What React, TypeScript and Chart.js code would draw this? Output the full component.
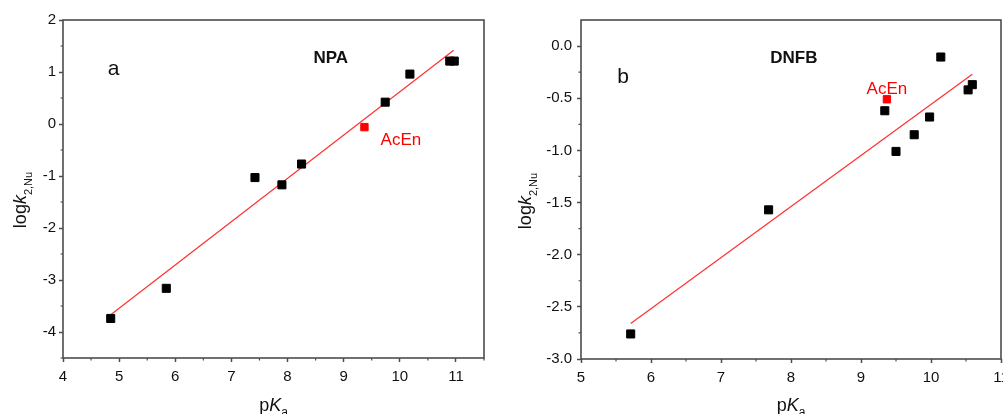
import React, { useEffect, useRef } from "react";
import { Chart, registerables } from "chart.js";

Chart.register(...registerables);

// ---------- Panel a (NPA) ----------
const pKaA = [4.85, 5.84, 7.42, 7.9, 8.25, 9.74, 10.18, 10.89, 10.97];
const logkA = [-3.74, -3.16, -1.03, -1.17, -0.77, 0.42, 0.96, 1.21, 1.21];
const acEnPKaA = [9.37];
const acEnLogkA = [-0.06];
const fitXA = [4.85, 10.96];
const fitYA = [-3.67, 1.42];
const xTicksA = [4, 5, 6, 7, 8, 9, 10, 11];
const yTicksA = [-4, -3, -2, -1, 0, 1, 2];
const xMinorA = [4.5, 5.5, 6.5, 7.5, 8.5, 9.5, 10.5, 11.5];
const yMinorA = [-4.5, -3.5, -2.5, -1.5, -0.5, 0.5, 1.5];

// ---------- Panel b (DNFB) ----------
const pKaB = [5.71, 7.68, 9.34, 9.5, 9.76, 9.98, 10.14, 10.53, 10.59];
const logkB = [-2.76, -1.57, -0.62, -1.01, -0.85, -0.68, -0.105, -0.42, -0.37];
const acEnPKaB = [9.37];
const acEnLogkB = [-0.51];
const fitXB = [5.71, 10.59];
const fitYB = [-2.66, -0.27];
const xTicksB = [5, 6, 7, 8, 9, 10, 11];
const yTicksB = [-3.0, -2.5, -2.0, -1.5, -1.0, -0.5, 0.0];
const xMinorB = [5.5, 6.5, 7.5, 8.5, 9.5, 10.5];
const yMinorB = [-2.75, -2.25, -1.75, -1.25, -0.75, -0.25];

const FONT = "'Liberation Sans', Arial, Helvetica, sans-serif";
const AXIS_COLOR = "#4d4d4d";
const TEXT_COLOR = "#111111";

type Seg = { t: string; style?: "normal" | "italic" | "sub" | "bold" };

type Note = {
  text: string;
  x: number;
  y: number;
  size: number;
  bold?: boolean;
  color: string;
};

type Panel = {
  id: string;
  canvasW: number;
  canvasH: number;
  left: number;
  yAxisW: number;
  xAxisH: number;
  padTop: number;
  padRight: number;
  xMin: number;
  xMax: number;
  yMin: number;
  yMax: number;
  xs: number[];
  ys: number[];
  redX: number[];
  redY: number[];
  fitX: number[];
  fitY: number[];
  xTicks: number[];
  yTicks: number[];
  xMinor: number[];
  yMinor: number[];
  yFmt: (v: number) => string;
  yPad: number;
  yTitleX: number;
  yTitleCY: number;
  notes: Note[];
};

function drawRich(
  ctx: CanvasRenderingContext2D,
  segs: Seg[],
  size: number,
  subSize: number,
  subDrop: number
) {
  const fontFor = (s: Seg) => {
    if (s.style === "italic") return `italic ${size}px ${FONT}`;
    if (s.style === "sub") return `${subSize}px ${FONT}`;
    return `${size}px ${FONT}`;
  };
  let total = 0;
  const widths = segs.map((s) => {
    ctx.font = fontFor(s);
    const w = ctx.measureText(s.t).width;
    total += w;
    return w;
  });
  let x = -total / 2;
  ctx.textAlign = "left";
  ctx.textBaseline = "alphabetic";
  segs.forEach((s, i) => {
    ctx.font = fontFor(s);
    ctx.fillText(s.t, x, s.style === "sub" ? subDrop : 0);
    x += widths[i];
  });
}

function framePlugin(p: Panel) {
  return {
    id: "frame_" + p.id,
    afterDraw(chart: any) {
      const { ctx, chartArea } = chart;
      const { left, top, right, bottom } = chartArea;
      const xs = chart.scales.x;
      const ys = chart.scales.y;
      ctx.save();
      // box
      ctx.strokeStyle = AXIS_COLOR;
      ctx.lineWidth = 1.6;
      ctx.strokeRect(left, top, right - left, bottom - top);
      // minor ticks
      ctx.lineWidth = 1.2;
      ctx.beginPath();
      p.xMinor.forEach((v) => {
        const px = xs.getPixelForValue(v);
        ctx.moveTo(px, bottom);
        ctx.lineTo(px, bottom + 2.5);
      });
      p.yMinor.forEach((v) => {
        const py = ys.getPixelForValue(v);
        ctx.moveTo(left, py);
        ctx.lineTo(left - 2.5, py);
      });
      ctx.stroke();

      ctx.fillStyle = TEXT_COLOR;
      // x title: pKa
      ctx.save();
      ctx.translate((left + right) / 2, chart.height - 3);
      drawRich(
        ctx,
        [{ t: "p" }, { t: "K", style: "italic" }, { t: "a", style: "sub" }],
        18,
        12,
        5
      );
      ctx.restore();

      // y title: logk2,Nu
      ctx.save();
      ctx.translate(p.yTitleX, p.yTitleCY);
      ctx.rotate(-Math.PI / 2);
      drawRich(
        ctx,
        [{ t: "log" }, { t: "k", style: "italic" }, { t: "2,Nu", style: "sub" }],
        18,
        11,
        6
      );
      ctx.restore();

      // annotations
      p.notes.forEach((n) => {
        ctx.font = `${n.bold ? "bold " : ""}${n.size}px ${FONT}`;
        ctx.fillStyle = n.color;
        ctx.textAlign = "center";
        ctx.textBaseline = "alphabetic";
        ctx.fillText(n.text, xs.getPixelForValue(n.x), ys.getPixelForValue(n.y));
      });
      ctx.restore();
    },
  };
}

function buildConfig(p: Panel): any {
  const tickFont = { family: FONT, size: 15 };
  return {
    type: "scatter",
    data: {
      datasets: [
        {
          label: "data",
          data: p.xs.map((x, i) => ({ x, y: p.ys[i] })),
          pointStyle: "rect",
          pointRadius: 5.7,
          backgroundColor: "#000000",
          borderColor: "#000000",
          borderWidth: 1,
        },
        {
          label: "AcEn",
          data: p.redX.map((x, i) => ({ x, y: p.redY[i] })),
          pointStyle: "rect",
          pointRadius: 5.2,
          backgroundColor: "#ff0000",
          borderColor: "#ff0000",
          borderWidth: 1,
        },
        {
          label: "fit",
          data: p.fitX.map((x, i) => ({ x, y: p.fitY[i] })),
          showLine: true,
          borderColor: "#ff3030",
          borderWidth: 1.2,
          pointRadius: 0,
          fill: false,
        },
      ],
    },
    options: {
      animation: false,
      responsive: false,
      events: [],
      layout: {
        padding: { left: 0, top: p.padTop, right: p.padRight, bottom: 0 },
      },
      plugins: { legend: { display: false }, tooltip: { enabled: false } },
      scales: {
        x: {
          type: "linear",
          min: p.xMin,
          max: p.xMax,
          afterBuildTicks: (s: any) => {
            s.ticks = p.xTicks.map((v) => ({ value: v }));
          },
          afterFit: (s: any) => {
            s.height = p.xAxisH;
          },
          grid: {
            display: true,
            drawOnChartArea: false,
            drawTicks: true,
            tickLength: 4,
            tickColor: AXIS_COLOR,
            tickWidth: 1.5,
          },
          border: { display: false },
          ticks: {
            font: tickFont,
            color: TEXT_COLOR,
            padding: 6,
            maxRotation: 0,
            autoSkip: false,
            callback: (v: any) => String(v),
          },
        },
        y: {
          type: "linear",
          min: p.yMin,
          max: p.yMax,
          afterBuildTicks: (s: any) => {
            s.ticks = p.yTicks.map((v) => ({ value: v }));
          },
          afterFit: (s: any) => {
            s.width = p.yAxisW;
          },
          grid: {
            display: true,
            drawOnChartArea: false,
            drawTicks: true,
            tickLength: 4,
            tickColor: AXIS_COLOR,
            tickWidth: 1.5,
          },
          border: { display: false },
          ticks: {
            font: tickFont,
            color: TEXT_COLOR,
            padding: p.yPad,
            autoSkip: false,
            callback: (v: any) => p.yFmt(Number(v)),
          },
        },
      },
    },
    plugins: [framePlugin(p)],
  };
}

const panelA: Panel = {
  id: "a",
  canvasW: 500,
  canvasH: 414,
  left: 0,
  yAxisW: 63,
  xAxisH: 56,
  padTop: 20,
  padRight: 16,
  xMin: 4,
  xMax: 11.5,
  yMin: -4.5,
  yMax: 2,
  xs: pKaA,
  ys: logkA,
  redX: acEnPKaA,
  redY: acEnLogkA,
  fitX: fitXA,
  fitY: fitYA,
  xTicks: xTicksA,
  yTicks: yTicksA,
  xMinor: xMinorA,
  yMinor: yMinorA,
  yFmt: (v) => String(v),
  yPad: 3,
  yTitleX: 25.5,
  yTitleCY: 200,
  notes: [
    { text: "a", x: 4.9, y: 0.94, size: 21, color: "#111111" },
    { text: "NPA", x: 8.77, y: 1.18, size: 17, bold: true, color: "#111111" },
    { text: "AcEn", x: 10.02, y: -0.4, size: 17, color: "#ff0000" },
  ],
};

const panelB: Panel = {
  id: "b",
  canvasW: 520,
  canvasH: 414,
  left: 500,
  yAxisW: 81,
  xAxisH: 55,
  padTop: 20,
  padRight: 19,
  xMin: 5,
  xMax: 11,
  yMin: -3,
  yMax: 0.25,
  xs: pKaB,
  ys: logkB,
  redX: acEnPKaB,
  redY: acEnLogkB,
  fitX: fitXB,
  fitY: fitYB,
  xTicks: xTicksB,
  yTicks: yTicksB,
  xMinor: xMinorB,
  yMinor: yMinorB,
  yFmt: (v) => v.toFixed(1),
  yPad: 5,
  yTitleX: 31,
  yTitleCY: 201,
  notes: [
    { text: "b", x: 5.6, y: -0.357, size: 21, color: "#111111" },
    { text: "DNFB", x: 8.04, y: -0.163, size: 17, bold: true, color: "#111111" },
    { text: "AcEn", x: 9.37, y: -0.462, size: 17, color: "#ff0000" },
  ],
};

function PanelChart({ p }: { p: Panel }) {
  const ref = useRef<HTMLCanvasElement | null>(null);
  useEffect(() => {
    if (!ref.current) return;
    const chart = new Chart(ref.current, buildConfig(p));
    return () => chart.destroy();
  }, [p]);
  return (
    <canvas
      ref={ref}
      width={p.canvasW}
      height={p.canvasH}
      style={{
        position: "absolute",
        left: p.left,
        top: 0,
        width: p.canvasW,
        height: p.canvasH,
        display: "block",
      }}
    />
  );
}

export default function App() {
  return (
    <div
      style={{
        position: "fixed",
        left: 0,
        top: 0,
        width: 1003,
        height: 414,
        overflow: "hidden",
        background: "#ffffff",
      }}
    >
      <PanelChart p={panelA} />
      <PanelChart p={panelB} />
    </div>
  );
}
